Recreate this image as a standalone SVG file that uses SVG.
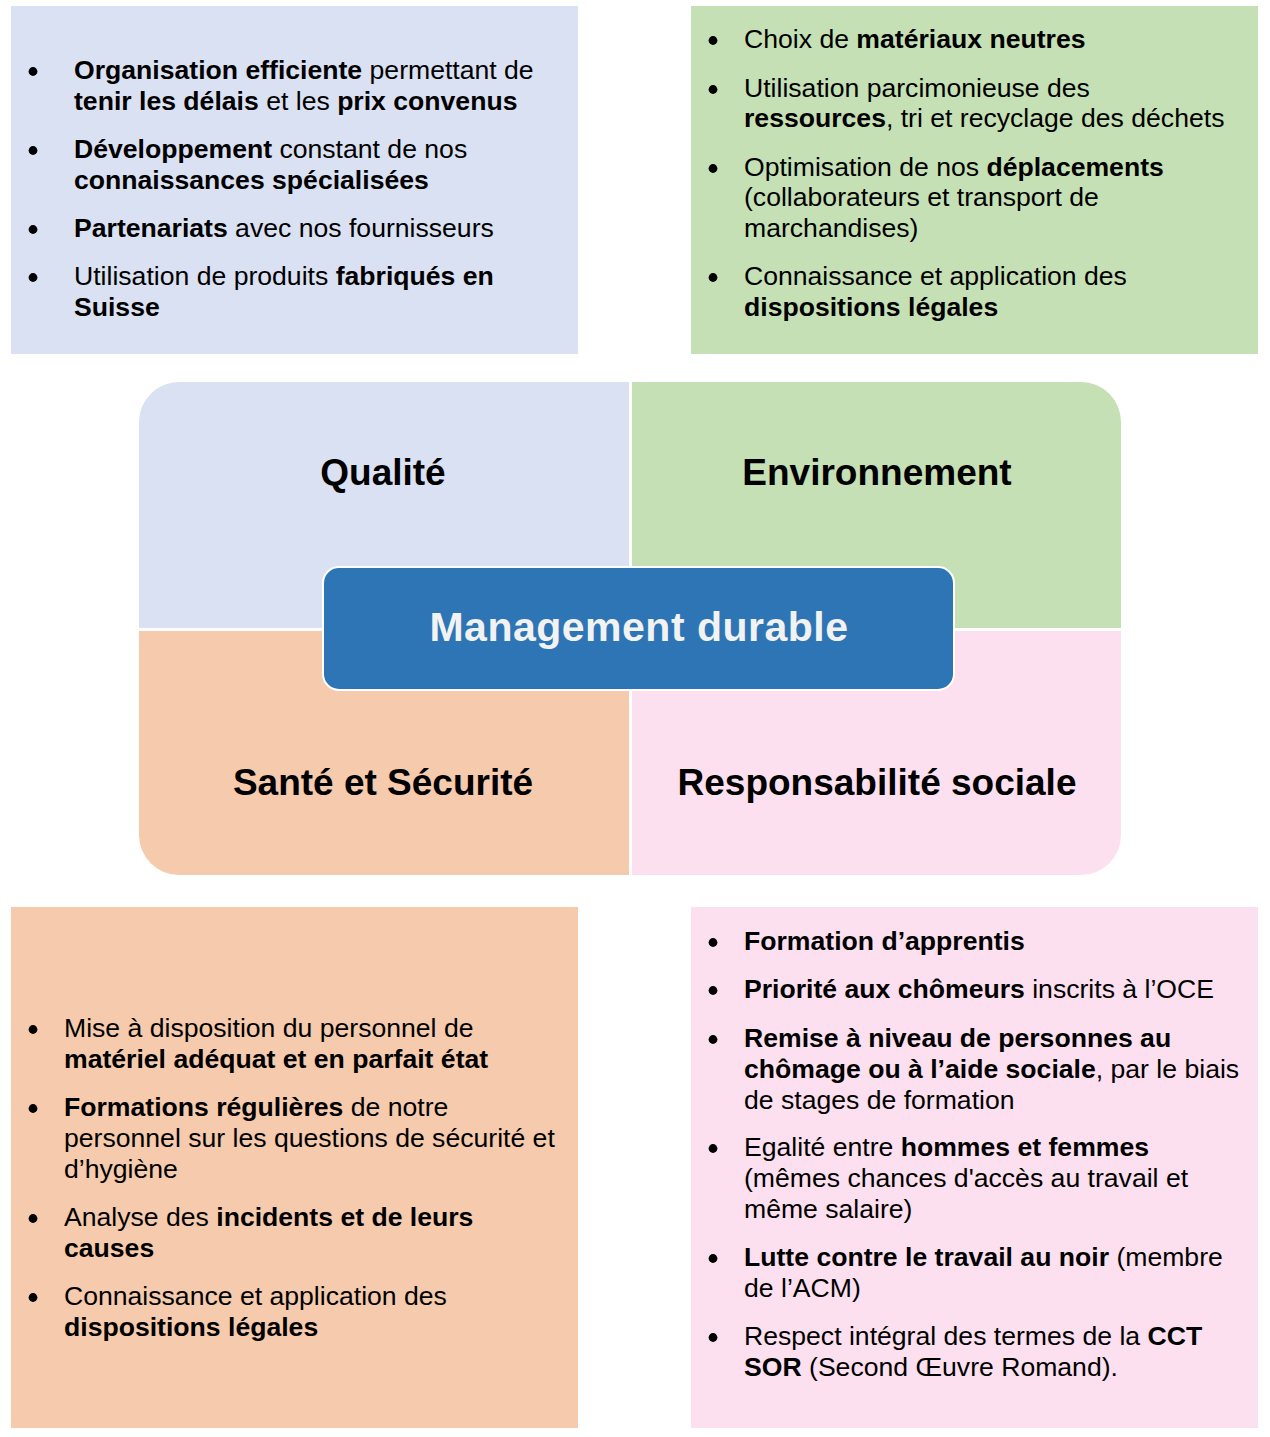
<svg xmlns="http://www.w3.org/2000/svg" width="1270" height="1437" viewBox="0 0 1270 1437">
<style>
.t{font-family:"Liberation Sans",Arial,sans-serif;font-size:26.6px;fill:#000}
.b{font-weight:bold}
.bul{fill:#000}
.q{font-family:"Liberation Sans",Arial,sans-serif;font-size:37px;font-weight:bold;fill:#000;text-anchor:middle}
.blue{fill:#DAE1F2}.green{fill:#C5E0B4}.peach{fill:#F6CAAC}.pink{fill:#FCE0EF}
</style>
<defs><circle id="dot" r="4.4"/></defs>
<rect width="1270" height="1437" fill="#fff"/>

<g id="box-qualite">
<rect class="blue" x="11" y="6" width="567" height="348"/>
<g class="bul"><use href="#dot" x="33" y="71.5"/><use href="#dot" x="33" y="150.5"/><use href="#dot" x="33" y="229.5"/><use href="#dot" x="33" y="277.5"/></g>
<text class="t" x="74" y="79"><tspan class="b">Organisation efficiente</tspan> permettant de</text>
<text class="t" x="74" y="110"><tspan class="b">tenir les délais</tspan> et les <tspan class="b">prix convenus</tspan></text>
<text class="t" x="74" y="158"><tspan class="b">Développement</tspan> constant de nos</text>
<text class="t" x="74" y="189"><tspan class="b">connaissances spécialisées</tspan></text>
<text class="t" x="74" y="237"><tspan class="b">Partenariats</tspan> avec nos fournisseurs</text>
<text class="t" x="74" y="285">Utilisation de produits <tspan class="b">fabriqués en</tspan></text>
<text class="t" x="74" y="316"><tspan class="b">Suisse</tspan></text>
</g>

<g id="box-environnement">
<rect class="green" x="691" y="6" width="567" height="348"/>
<g class="bul"><use href="#dot" x="713" y="40.5"/><use href="#dot" x="713" y="89.5"/><use href="#dot" x="713" y="168.5"/><use href="#dot" x="713" y="277.5"/></g>
<text class="t" x="744" y="48">Choix de <tspan class="b">matériaux neutres</tspan></text>
<text class="t" x="744" y="97">Utilisation parcimonieuse des</text>
<text class="t" x="744" y="127"><tspan class="b">ressources</tspan>, tri et recyclage des déchets</text>
<text class="t" x="744" y="176">Optimisation de nos <tspan class="b">déplacements</tspan></text>
<text class="t" x="744" y="206">(collaborateurs et transport de</text>
<text class="t" x="744" y="237">marchandises)</text>
<text class="t" x="744" y="285">Connaissance et application des</text>
<text class="t" x="744" y="316"><tspan class="b">dispositions légales</tspan></text>
</g>

<g id="quadrant">
<g id="q-qualite">
<path class="blue" d="M139,628 V422 A40,40 0 0 1 179,382 H629 V628 Z"/>
<text class="q" x="383" y="485">Qualité</text>
</g>
<g id="q-environnement">
<path class="green" d="M632,382 H1081 A40,40 0 0 1 1121,422 V628 H632 Z"/>
<text class="q" x="877" y="485">Environnement</text>
</g>
<g id="q-sante">
<path class="peach" d="M139,631 H629 V875 H179 A40,40 0 0 1 139,835 Z"/>
<text class="q" x="383" y="795">Santé et Sécurité</text>
</g>
<g id="q-social">
<path class="pink" d="M632,631 H1121 V835 A40,40 0 0 1 1081,875 H632 Z"/>
<text class="q" x="877" y="795">Responsabilité sociale</text>
</g>
</g>

<g id="center">
<rect x="323" y="567" width="631" height="123" rx="16" fill="#2E75B6" stroke="#fff" stroke-width="2"/>
<text x="639" y="641" font-family="Liberation Sans,Arial,sans-serif" font-size="41" font-weight="bold" fill="#F2F2F2" text-anchor="middle" letter-spacing="0.5">Management durable</text>
</g>

<g id="box-sante">
<rect class="peach" x="11" y="907" width="567" height="521"/>
<g class="bul"><use href="#dot" x="33" y="1029.5"/><use href="#dot" x="33" y="1108.5"/><use href="#dot" x="33" y="1218.5"/><use href="#dot" x="33" y="1297.5"/></g>
<text class="t" x="64" y="1037">Mise à disposition du personnel de</text>
<text class="t" x="64" y="1068"><tspan class="b">matériel adéquat et en parfait état</tspan></text>
<text class="t" x="64" y="1116"><tspan class="b">Formations régulières</tspan> de notre</text>
<text class="t" x="64" y="1147">personnel sur les questions de sécurité et</text>
<text class="t" x="64" y="1178">d’hygiène</text>
<text class="t" x="64" y="1226">Analyse des <tspan class="b">incidents et de leurs</tspan></text>
<text class="t" x="64" y="1257"><tspan class="b">causes</tspan></text>
<text class="t" x="64" y="1305">Connaissance et application des</text>
<text class="t" x="64" y="1336"><tspan class="b">dispositions légales</tspan></text>
</g>

<g id="box-social">
<rect class="pink" x="691" y="907" width="567" height="521"/>
<g class="bul"><use href="#dot" x="713" y="942.5"/><use href="#dot" x="713" y="990.5"/><use href="#dot" x="713" y="1039.5"/><use href="#dot" x="713" y="1148.5"/><use href="#dot" x="713" y="1258.5"/><use href="#dot" x="713" y="1337.5"/></g>
<text class="t" x="744" y="950"><tspan class="b">Formation d’apprentis</tspan></text>
<text class="t" x="744" y="998"><tspan class="b">Priorité aux chômeurs</tspan> inscrits à l’OCE</text>
<text class="t" x="744" y="1047"><tspan class="b">Remise à niveau de personnes au</tspan></text>
<text class="t" x="744" y="1078"><tspan class="b">chômage ou à l’aide sociale</tspan>, par le biais</text>
<text class="t" x="744" y="1109">de stages de formation</text>
<text class="t" x="744" y="1156">Egalité entre <tspan class="b">hommes et femmes</tspan></text>
<text class="t" x="744" y="1187">(mêmes chances d'accès au travail et</text>
<text class="t" x="744" y="1218">même salaire)</text>
<text class="t" x="744" y="1266"><tspan class="b">Lutte contre le travail au noir</tspan> (membre</text>
<text class="t" x="744" y="1297">de l’ACM)</text>
<text class="t" x="744" y="1345">Respect intégral des termes de la <tspan class="b">CCT</tspan></text>
<text class="t" x="744" y="1376"><tspan class="b">SOR</tspan> (Second Œuvre Romand).</text>
</g>
</svg>
